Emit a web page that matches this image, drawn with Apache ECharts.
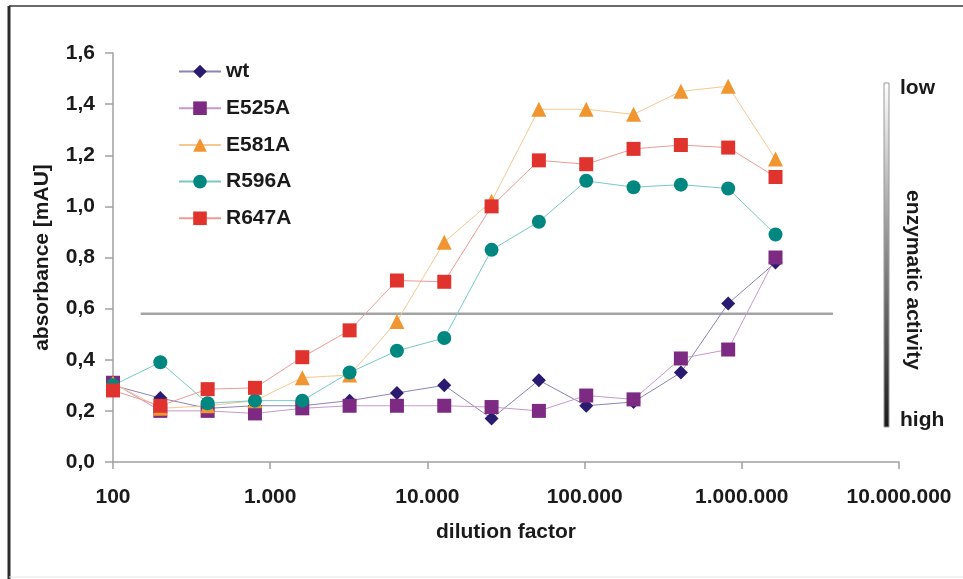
<!DOCTYPE html>
<html>
<head>
<meta charset="utf-8">
<script src="https://cdn.jsdelivr.net/npm/echarts@6/dist/echarts.min.js"></script>
<style>
  html, body { margin: 0; padding: 0; background: #fff; }
  #graph { width: 963px; height: 579px; }
</style>
</head>
<body>
<div id="graph"></div>
<script>
const dilution = [100, 200, 400, 800, 1600, 3200, 6400, 12800, 25600, 51200, 102400, 204800, 409600, 819200, 1638400];
const wt    = [0.30, 0.25, 0.21, 0.22, 0.22, 0.24, 0.27, 0.30, 0.17, 0.32, 0.22, 0.235, 0.35, 0.62, 0.78];
const e525a = [0.31, 0.20, 0.20, 0.19, 0.21, 0.22, 0.22, 0.22, 0.215, 0.20, 0.26, 0.245, 0.405, 0.44, 0.80];
const e581a = [0.31, 0.21, 0.22, 0.24, 0.33, 0.34, 0.55, 0.86, 1.02, 1.38, 1.38, 1.36, 1.45, 1.47, 1.185];
const r596a = [0.30, 0.39, 0.23, 0.24, 0.24, 0.35, 0.435, 0.485, 0.83, 0.94, 1.10, 1.075, 1.085, 1.07, 0.89];
const r647a = [0.28, 0.22, 0.285, 0.29, 0.41, 0.515, 0.71, 0.705, 1.0, 1.18, 1.165, 1.225, 1.24, 1.23, 1.115];
const thresholdX = [150, 3800000];
const thresholdY = 0.58;

const chartDom = document.getElementById('graph');
const myChart = echarts.init(chartDom);

const font = "'Liberation Sans', Arial, sans-serif";
const fs = 21;

function pairs(ys) {
    return dilution.map(function (x, i) { return [x, ys[i]]; });
}

function serie(name, ys, symbol, size, color, lineColor) {
    return {
        name: name,
        type: 'line',
        data: pairs(ys),
        symbol: symbol,
        symbolSize: size,
        itemStyle: { color: color },
        lineStyle: { color: lineColor, width: 1 },
        animation: false
    };
}

function dotted(v) {
    return String(Math.round(v)).replace(/\B(?=(\d{3})+(?!\d))/g, '.');
}

const option = {
    backgroundColor: '#fff',
    textStyle: { fontFamily: font },
    grid: { left: 113, right: 64, top: 53, bottom: 117 },
    legend: {
        orient: 'vertical',
        left: 178,
        top: 61,
        padding: 0,
        itemWidth: 42,
        itemHeight: 17,
        itemGap: 15.7,
        textStyle: { fontSize: fs, fontWeight: 'bold', color: '#1a1a1a', fontFamily: font },
        data: ['wt', 'E525A', 'E581A', 'R596A', 'R647A']
    },
    xAxis: {
        type: 'log',
        logBase: 10,
        min: 100,
        max: 10000000,
        name: 'dilution factor',
        nameLocation: 'middle',
        nameGap: 60,
        nameTextStyle: { fontSize: fs, fontWeight: 'bold', color: '#1a1a1a' },
        axisLine: { lineStyle: { color: '#a0a0a0', width: 1.5 } },
        axisTick: { length: 7, lineStyle: { color: '#a0a0a0', width: 1.5 } },
        axisLabel: {
            margin: 25,
            fontSize: fs,
            fontWeight: 'bold',
            color: '#1a1a1a',
            formatter: dotted
        },
        splitLine: { show: false }
    },
    yAxis: {
        type: 'value',
        min: 0,
        max: 1.6,
        interval: 0.2,
        name: 'absorbance [mAU]',
        nameLocation: 'middle',
        nameGap: 60,
        nameTextStyle: { fontSize: fs, fontWeight: 'bold', color: '#1a1a1a' },
        axisLine: { show: true, lineStyle: { color: '#a0a0a0', width: 1.5 } },
        axisTick: { show: true, length: 8, lineStyle: { color: '#a0a0a0', width: 1.5 } },
        axisLabel: {
            margin: 18,
            fontSize: fs,
            fontWeight: 'bold',
            color: '#1a1a1a',
            formatter: function (v) { return v.toFixed(1).replace('.', ','); }
        },
        splitLine: { show: false }
    },
    series: [
        {
            type: 'line',
            data: thresholdX.map(function (x) { return [x, thresholdY]; }),
            symbol: 'none',
            silent: true,
            lineStyle: { color: '#a3a3a3', width: 2.5 },
            animation: false,
            z: 1
        },
        serie('wt', wt, 'diamond', 14, '#2b1b70', '#8b84b5'),
        serie('E525A', e525a, 'rect', 14, '#7d2a82', '#c69ac9'),
        serie('E581A', e581a, 'triangle', 15, '#f0952f', '#f6c891'),
        serie('R596A', r596a, 'circle', 14, '#00877f', '#79c9c4'),
        serie('R647A', r647a, 'rect', 14, '#e1332d', '#ee9a96')
    ],
    graphic: [
        { type: 'line', shape: { x1: 9, y1: 6, x2: 963, y2: 6 }, style: { stroke: '#6a6a6a', lineWidth: 2 } },
        { type: 'line', shape: { x1: 9, y1: 6, x2: 9, y2: 579 }, style: { stroke: '#2a2a2a', lineWidth: 3 } },
        { type: 'line', shape: { x1: 9, y1: 577, x2: 963, y2: 577 }, style: { stroke: '#e6e6e6', lineWidth: 1 } },
        {
            type: 'rect',
            shape: { x: 884, y: 83, width: 5, height: 344 },
            style: {
                fill: new echarts.graphic.LinearGradient(0, 0, 0, 1, [
                    { offset: 0, color: '#ffffff' },
                    { offset: 0.5, color: '#8a8a8a' },
                    { offset: 1, color: '#1a1a1a' }
                ]),
                stroke: '#9a9a9a',
                lineWidth: 1
            }
        },
        {
            type: 'text', x: 900, y: 88,
            style: { text: 'low', font: 'bold ' + fs + 'px ' + font, fill: '#1a1a1a', verticalAlign: 'middle' }
        },
        {
            type: 'text', x: 900, y: 420,
            style: { text: 'high', font: 'bold ' + fs + 'px ' + font, fill: '#1a1a1a', verticalAlign: 'middle' }
        },
        {
            type: 'text', x: 913, y: 280, rotation: -Math.PI / 2,
            style: { text: 'enzymatic activity', font: 'bold ' + fs + 'px ' + font, fill: '#1a1a1a', align: 'center', verticalAlign: 'middle' }
        }
    ]
};

option && myChart.setOption(option);
</script>
</body>
</html>
